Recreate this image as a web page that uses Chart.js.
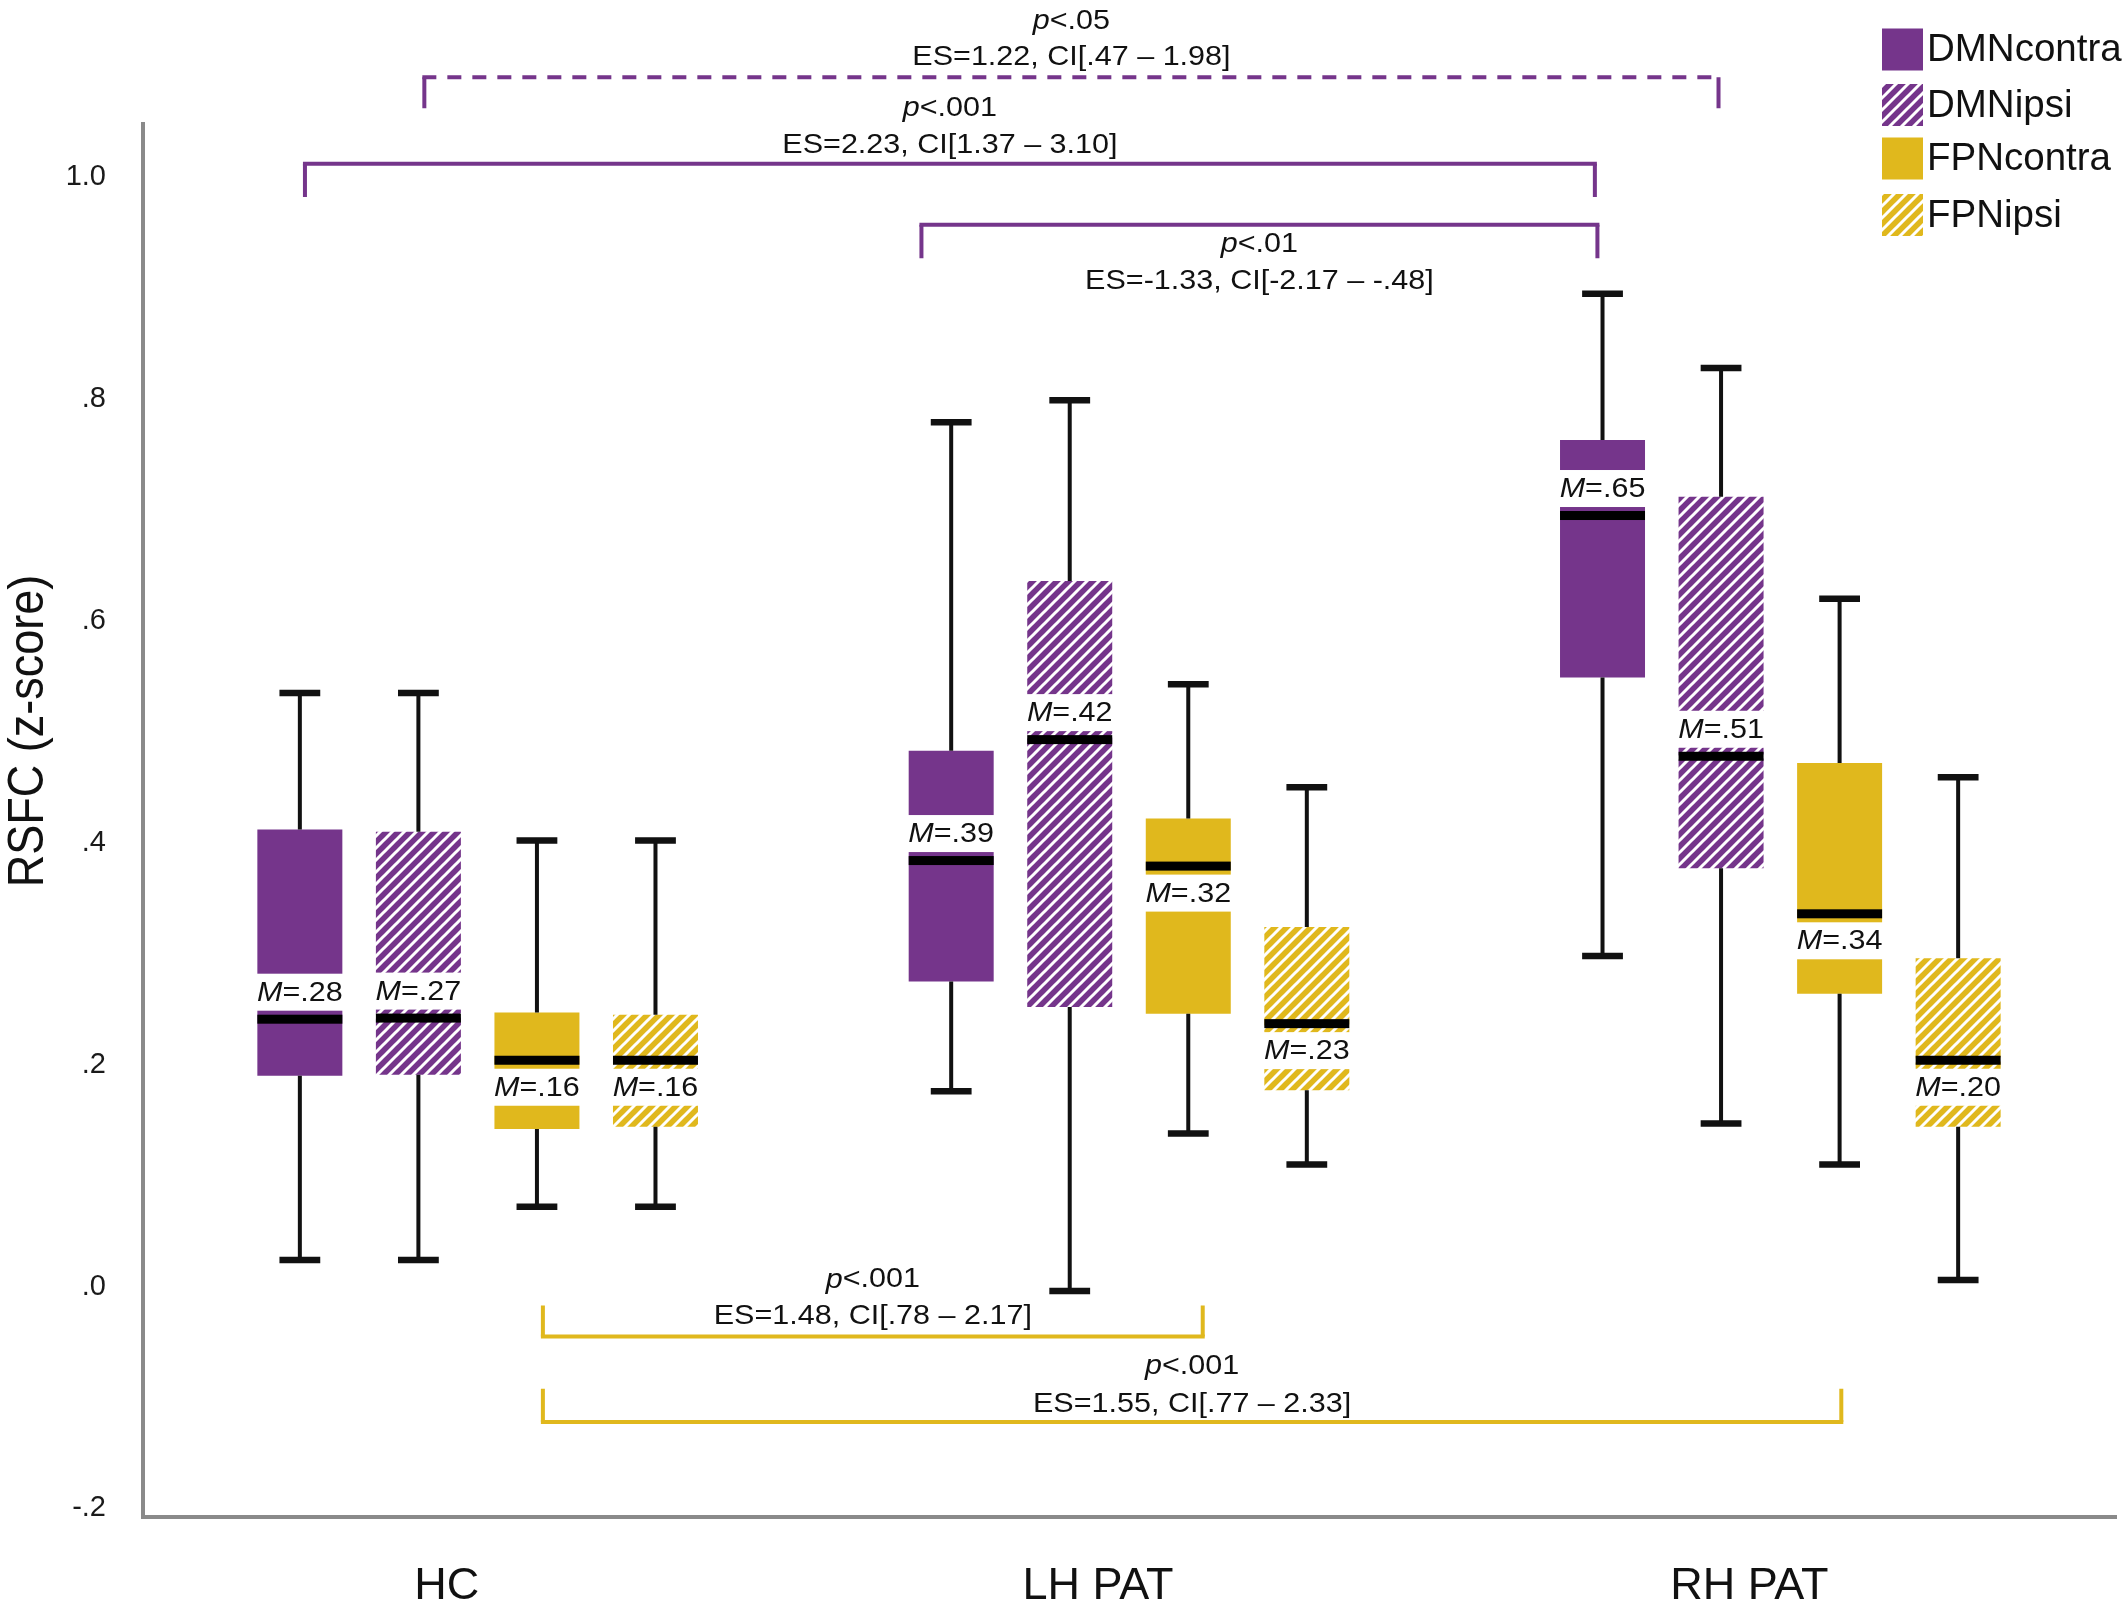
<!DOCTYPE html>
<html>
<head>
<meta charset="utf-8">
<title>RSFC boxplots</title>
<script src="https://cdn.jsdelivr.net/npm/chart.js@4.4.0/dist/chart.umd.min.js"></script>
<style>
  html, body { margin: 0; padding: 0; background: #fff; }
  #wrap { width: 2128px; height: 1610px; }
</style>
</head>
<body>
<div id="wrap"><canvas id="rsfcChart" width="2128" height="1610"></canvas></div>
<script>
// groups on the x axis and the four networks
const groups = ['HC', 'LH PAT', 'RH PAT'];
const seriesNames = ['DMNcontra', 'DMNipsi', 'FPNcontra', 'FPNipsi'];
const yTicks = [-0.2, 0, 0.2, 0.4, 0.6, 0.8, 1.0];

// box stats per group (HC, LH PAT, RH PAT)
const dmnContraMin = [0.024, 0.176, 0.298];
const dmnContraQ1  = [0.190, 0.275, 0.549];
const dmnContraMed = [0.241, 0.384, 0.695];
const dmnContraQ3  = [0.412, 0.483, 0.763];
const dmnContraMax = [0.535, 0.779, 0.895];
const dmnContraMean = [0.28, 0.39, 0.65];

const dmnIpsiMin = [0.024, -0.004, 0.147];
const dmnIpsiQ1  = [0.191, 0.252, 0.377];
const dmnIpsiMed = [0.242, 0.493, 0.478];
const dmnIpsiQ3  = [0.410, 0.636, 0.712];
const dmnIpsiMax = [0.535, 0.799, 0.828];
const dmnIpsiMean = [0.27, 0.42, 0.51];

const fpnContraMin = [0.072, 0.138, 0.110];
const fpnContraQ1  = [0.142, 0.246, 0.264];
const fpnContraMed = [0.204, 0.379, 0.336];
const fpnContraQ3  = [0.247, 0.422, 0.472];
const fpnContraMax = [0.402, 0.543, 0.620];
const fpnContraMean = [0.16, 0.32, 0.34];

const fpnIpsiMin = [0.072, 0.110, 0.006];
const fpnIpsiQ1  = [0.144, 0.177, 0.144];
const fpnIpsiMed = [0.204, 0.237, 0.204];
const fpnIpsiQ3  = [0.245, 0.324, 0.296];
const fpnIpsiMax = [0.402, 0.450, 0.459];
const fpnIpsiMean = [0.16, 0.23, 0.20];

// significance brackets: [group, series, shift in box widths]
const bracketFrom = [[0, 1, 0.07], [0, 0, 0.06], [1, 0, -0.35], [0, 2, 0.07], [0, 2, 0.07]];
const bracketTo   = [[2, 1, -0.03], [2, 0, -0.09], [2, 0, -0.06], [1, 2, 0.17], [2, 2, 0.02]];
const bracketP    = ['<.05', '<.001', '<.01', '<.001', '<.001'];
const bracketES   = ['ES=1.22, CI[.47 \u2013 1.98]', 'ES=2.23, CI[1.37 \u2013 3.10]',
                     'ES=-1.33, CI[-2.17 \u2013 -.48]', 'ES=1.48, CI[.78 \u2013 2.17]',
                     'ES=1.55, CI[.77 \u2013 2.33]'];

const PURPLE = '#75358b';
const YELLOW = '#e0b81d';
const AXIS = '#8a8a8a';
const FONT = "'Liberation Sans', Arial, Helvetica, sans-serif";

// layout of the brackets (values on the y scale)
const bracketStyle = [
  { color: PURPLE, dashed: true,  line: 1.090, tick: 1.062, pY: 1.140, esY: 1.108 },
  { color: PURPLE, dashed: false, line: 1.012, tick: 0.982, pY: 1.062, esY: 1.029 },
  { color: PURPLE, dashed: false, line: 0.957, tick: 0.927, pY: 0.939, esY: 0.906 },
  { color: YELLOW, dashed: false, line: -0.045, tick: -0.017, pY: 0.006, esY: -0.027 },
  { color: YELLOW, dashed: false, line: -0.122, tick: -0.092, pY: -0.072, esY: -0.106 }
];

function makeHatch(color) {
  const size = 12;
  const c = document.createElement('canvas');
  c.width = size;
  c.height = size;
  const g = c.getContext('2d');
  g.fillStyle = color;
  g.fillRect(0, 0, size, size);
  g.strokeStyle = '#ffffff';
  g.lineWidth = 3;
  g.beginPath();
  g.moveTo(0, size); g.lineTo(size, 0);
  g.moveTo(-size / 2, size / 2); g.lineTo(size / 2, -size / 2);
  g.moveTo(size / 2, size * 1.5); g.lineTo(size * 1.5, size / 2);
  g.stroke();
  const ctx = document.createElement('canvas').getContext('2d');
  return ctx.createPattern(c, 'repeat');
}

const stats = [
  { min: dmnContraMin, q1: dmnContraQ1, med: dmnContraMed, q3: dmnContraQ3, max: dmnContraMax, mean: dmnContraMean },
  { min: dmnIpsiMin, q1: dmnIpsiQ1, med: dmnIpsiMed, q3: dmnIpsiQ3, max: dmnIpsiMax, mean: dmnIpsiMean },
  { min: fpnContraMin, q1: fpnContraQ1, med: fpnContraMed, q3: fpnContraQ3, max: fpnContraMax, mean: fpnContraMean },
  { min: fpnIpsiMin, q1: fpnIpsiQ1, med: fpnIpsiMed, q3: fpnIpsiQ3, max: fpnIpsiMax, mean: fpnIpsiMean }
];
const fills = [PURPLE, makeHatch(PURPLE), YELLOW, makeHatch(YELLOW)];
// DMN labels sit above the median, FPN labels below
const labelAbove = [true, true, false, false];

function fmtMean(v) {
  return v.toFixed(2).replace(/^0/, '');
}

function partsWidth(ctx, parts, size) {
  let total = 0;
  parts.forEach(p => {
    ctx.font = (p[1] ? 'italic ' : '') + size + 'px ' + FONT;
    total += ctx.measureText(p[0]).width;
  });
  return total;
}

// draws mixed italic/normal text centred on (cx, cy), stretched by sx
function drawParts(ctx, parts, cx, cy, size, sx) {
  const total = partsWidth(ctx, parts, size);
  ctx.save();
  ctx.translate(cx, cy);
  ctx.scale(sx, 1);
  ctx.textBaseline = 'middle';
  ctx.textAlign = 'left';
  ctx.fillStyle = '#111';
  let x = -total / 2;
  parts.forEach(p => {
    ctx.font = (p[1] ? 'italic ' : '') + size + 'px ' + FONT;
    ctx.fillText(p[0], x, 0);
    x += ctx.measureText(p[0]).width;
  });
  ctx.restore();
}

const boxDecor = {
  id: 'boxDecor',
  beforeDatasetsDraw(chart) {
    // axis lines, running a little past the category area as in the figure
    const ctx = chart.ctx, a = chart.chartArea;
    ctx.save();
    ctx.strokeStyle = AXIS;
    ctx.lineWidth = 4;
    ctx.beginPath();
    ctx.moveTo(a.left - 9, a.top);
    ctx.lineTo(a.left - 9, a.bottom);
    ctx.lineTo(a.right + 11, a.bottom);
    ctx.stroke();
    ctx.restore();
  },
  afterDatasetsDraw(chart) {
    const ctx = chart.ctx;
    const y = chart.scales.y;
    const TXT = 27.5, SX = 1.11;

    stats.forEach((s, di) => {
      const meta = chart.getDatasetMeta(di);
      meta.data.forEach((bar, i) => {
        const x = bar.x, w = bar.width;
        const capW = w * 0.48;
        const pMin = y.getPixelForValue(s.min[i]);
        const pQ1 = y.getPixelForValue(s.q1[i]);
        const pQ3 = y.getPixelForValue(s.q3[i]);
        const pMax = y.getPixelForValue(s.max[i]);
        const pMed = y.getPixelForValue(s.med[i]);

        ctx.save();
        ctx.strokeStyle = '#111';
        ctx.lineWidth = 4;
        ctx.beginPath();
        ctx.moveTo(x, pQ3); ctx.lineTo(x, pMax);
        ctx.moveTo(x, pQ1); ctx.lineTo(x, pMin);
        ctx.stroke();
        ctx.lineWidth = 6.5;
        ctx.beginPath();
        ctx.moveTo(x - capW / 2, pMax); ctx.lineTo(x + capW / 2, pMax);
        ctx.moveTo(x - capW / 2, pMin); ctx.lineTo(x + capW / 2, pMin);
        ctx.stroke();

        // median
        ctx.fillStyle = '#000';
        ctx.fillRect(x - w / 2, pMed - 4.5, w, 9);

        // mean label
        const parts = [['M', true], ['=' + fmtMean(s.mean[i]), false]];
        const tw = partsWidth(ctx, parts, TXT) * SX;
        const rw = Math.max(w, tw + 4), rh = 37;
        const top = labelAbove[di] ? pMed - 4.5 - 4 - rh : pMed + 4.5 + 4;
        ctx.fillStyle = '#fff';
        ctx.fillRect(x - rw / 2, top, rw, rh);
        drawParts(ctx, parts, x, top + rh / 2 + 1, TXT, SX);
        ctx.restore();
      });
    });

    // brackets
    const barX = ref => {
      const bar = chart.getDatasetMeta(ref[1]).data[ref[0]];
      return bar.x + ref[2] * bar.width;
    };
    bracketStyle.forEach((b, k) => {
      const xa = barX(bracketFrom[k]), xb = barX(bracketTo[k]);
      const yl = y.getPixelForValue(b.line), yt = y.getPixelForValue(b.tick);
      ctx.save();
      ctx.strokeStyle = b.color;
      ctx.lineWidth = 4;
      ctx.beginPath();
      ctx.moveTo(xa, yt); ctx.lineTo(xa, yl);
      ctx.moveTo(xb, yt); ctx.lineTo(xb, yl);
      ctx.stroke();
      ctx.setLineDash(b.dashed ? [14, 11] : []);
      ctx.beginPath();
      ctx.moveTo(xa - 2, yl); ctx.lineTo(xb + 2, yl);
      ctx.stroke();
      ctx.restore();
      const cx = (xa + xb) / 2;
      drawParts(ctx, [['p', true], [bracketP[k], false]], cx, y.getPixelForValue(b.pY), TXT, SX);
      drawParts(ctx, [[bracketES[k], false]], cx, y.getPixelForValue(b.esY), TXT, SX);
    });
  },
  afterDraw(chart) {
    const ctx = chart.ctx;
    // y axis title
    ctx.save();
    ctx.translate(29, 731);
    ctx.rotate(-Math.PI / 2);
    ctx.scale(1, 1.12);
    ctx.font = '45px ' + FONT;
    ctx.fillStyle = '#111';
    ctx.textAlign = 'center';
    ctx.textBaseline = 'middle';
    ctx.fillText('RSFC (z-score)', 0, 0);
    ctx.restore();

    // legend
    const rowY = [49.5, 105, 158.5, 215];
    ctx.save();
    chart.data.datasets.forEach((ds, i) => {
      ctx.fillStyle = ds.backgroundColor;
      ctx.fillRect(1882, rowY[i] - 21, 41, 42);
      ctx.fillStyle = '#111';
      ctx.font = '38.5px ' + FONT;
      ctx.textAlign = 'left';
      ctx.textBaseline = 'middle';
      ctx.fillText(ds.label, 1927, rowY[i] + 1);
    });
    ctx.restore();
  }
};

new Chart(document.getElementById('rsfcChart').getContext('2d'), {
  type: 'bar',
  data: {
    labels: groups,
    datasets: stats.map((s, i) => ({
      label: seriesNames[i],
      data: s.q1.map((v, j) => [v, s.q3[j]]),
      backgroundColor: fills[i],
      borderWidth: 0,
      categoryPercentage: 0.728,
      barPercentage: 0.717
    }))
  },
  options: {
    responsive: false,
    devicePixelRatio: 1,
    animation: false,
    layout: { padding: { left: 0, top: 122, right: 22, bottom: 0 } },
    plugins: {
      legend: { display: false },
      tooltip: { enabled: false }
    },
    scales: {
      x: {
        grid: { display: false, drawTicks: false },
        border: { display: false },
        ticks: {
          color: '#111',
          font: { family: FONT, size: 45 },
          padding: 43,
          labelOffset: -31
        },
        afterFit: scale => { scale.height = 93; }
      },
      y: {
        min: -0.2077,
        max: 1.0497,
        grid: { display: false, drawTicks: false },
        border: { display: false },
        afterBuildTicks: axis => { axis.ticks = yTicks.map(v => ({ value: v })); },
        ticks: {
          color: '#1a1a1a',
          font: { family: FONT, size: 29 },
          padding: 46,
          callback: v => v.toFixed(1).replace(/^(-?)0\./, '$1.')
        },
        afterFit: scale => { scale.width = 152; }
      }
    }
  },
  plugins: [boxDecor]
});
</script>
</body>
</html>
